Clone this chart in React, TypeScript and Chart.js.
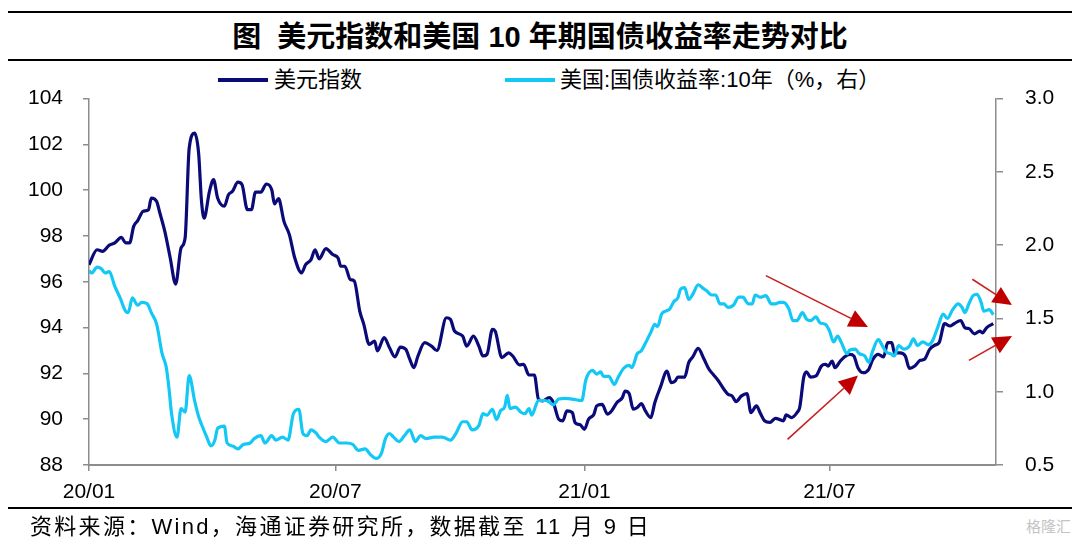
import { useEffect, useRef } from "react"
import { Chart, registerables } from "chart.js"

Chart.register(...registerables)

// days counted from 2020-01-01
const dxyDays = [
  0, 6, 10, 15, 19, 24, 27, 30, 33, 36, 40, 44, 46, 50, 52, 56, 60, 64, 68, 71, 74, 78, 81, 83, 85, 89, 92, 95,
  100, 103, 106, 110, 113, 117, 120, 123, 127, 131, 135, 137, 140, 144, 148, 152, 157, 160, 164, 167, 170, 175,
  180, 184, 186, 189, 193, 196, 200, 203, 207, 211, 213, 218, 222, 226, 230, 234, 237, 240, 243, 248, 253, 257,
  264, 267, 270, 276, 279, 284, 288, 291, 294, 298, 300, 305, 310, 313, 318, 321, 325, 329, 332, 335, 340, 343,
  347, 350, 353, 357, 359, 363, 366, 369, 373, 375, 379, 383, 386, 390, 394, 396, 399, 402, 405, 408, 411, 415,
  418, 422, 427, 430, 433, 435, 440, 443, 446, 450, 454, 458, 461, 465, 469, 472, 475, 478, 482, 486, 489, 493,
  496, 499, 503, 507, 513, 515, 519, 523, 525, 528, 530, 533, 537, 541, 544, 546, 549, 551, 555, 558, 562, 565,
  568, 572, 576, 579, 583, 587, 590, 593, 595, 599, 603, 606, 610, 614, 617, 621, 625, 628, 632, 636, 639, 644,
  647, 650, 654, 658, 660, 663, 668,
]
const dxyValues = [
  96.75, 97.4, 97.33, 97.6, 97.7, 97.94, 97.7, 97.7, 98.42, 98.67, 99.08, 99.15, 99.66, 99.51, 99.08, 98.2, 97.04,
  95.9, 97.48, 97.91, 101.83, 102.49, 101.6, 99.6, 98.78, 99.95, 100.46, 99.66,
  99.3, 99.8, 99.95, 100.35, 100.25, 99.15, 99.15, 99.92, 99.92, 100.27, 100.02, 99.4, 99.63, 98.64, 98.06, 97.04,
  96.39, 96.75, 96.97, 97.4, 97.0, 97.45,
  97.19, 97.04, 96.68, 96.68, 96.1, 96.03, 94.72, 94.14, 93.27, 93.41, 92.98, 93.56, 93.12, 92.72, 93.15, 93.05,
  92.61, 92.25, 92.76, 93.34, 93.19, 93.0,
  94.43, 94.36, 93.85, 93.63, 93.19, 93.63, 93.19, 92.76, 92.83, 93.92, 93.85, 92.69, 92.9, 92.76, 92.37, 92.4,
  91.93, 91.93, 90.87, 90.8, 90.94, 90.73,
  90.0, 89.93, 90.36, 90.29, 89.86, 89.75, 89.56, 90.0, 90.22, 90.58, 90.65, 90.22, 90.36, 90.73, 90.94, 91.23,
  91.12, 90.44, 90.51, 90.68, 90.36, 90.07,
  90.73, 91.38, 92.1, 91.6, 91.67, 91.84, 91.84, 92.47, 92.72, 93.09, 92.66, 92.18, 91.96, 91.67, 91.31, 91.09,
  91.02, 90.77, 91.02, 91.12, 90.29, 90.58,
  90.25, 89.93, 89.86, 90.04, 89.93, 90.19, 90.07, 90.29, 90.51, 91.84, 92.07, 91.84, 91.89, 92.32, 92.4, 92.32,
  92.54, 92.25, 92.54, 92.72, 92.83, 92.76,
  92.25, 92.03, 92.18, 92.61, 92.83, 92.72, 93.34, 93.34, 92.9, 92.9, 92.76, 92.22, 92.32, 92.57, 92.61, 93.05,
  93.24, 93.34, 94.17, 94.07, 94.17, 94.31,
  93.99, 93.96, 93.73, 93.85, 93.77, 93.99, 94.17,
]

const ustDays = [
  0, 2, 6, 9, 12, 15, 19, 23, 27, 29, 32, 36, 39, 43, 46, 50, 54, 57, 59, 61, 65, 68, 71, 74, 78, 81, 83, 87, 90,
  93, 95, 100, 102, 106, 110, 114, 119, 122, 127, 130, 135, 138, 143, 147, 151, 155, 158, 161, 164, 168, 170, 175,
  180, 185, 190, 195, 199, 204, 208, 212, 216, 219, 222, 225, 229, 233, 237, 241, 245, 249, 255, 261, 267, 271,
  276, 279, 283, 288, 291, 294, 298, 301, 304, 307, 309, 311, 315, 319, 322, 325, 327, 332, 337, 340, 343, 347,
  352, 357, 364, 367, 372, 375, 378, 380, 384, 388, 391, 395, 399, 401, 405, 408, 411, 415, 418, 420, 423, 426,
  429, 432, 435, 437, 440, 443, 446, 450, 453, 456, 460, 463, 466, 469, 472, 476, 480, 483, 487, 490, 492, 496,
  500, 504, 507, 510, 513, 517, 520, 523, 527, 530, 533, 537, 540, 544, 547, 550, 553, 556, 560, 562, 566, 569,
  573, 576, 579, 583, 586, 589, 592, 595, 598, 602, 606, 609, 612, 616, 620, 623, 627, 631, 634, 638, 642, 645,
  647, 650, 653, 656, 659, 661, 665, 668,
]
const ustValues = [
  1.825, 1.81, 1.85, 1.84, 1.81, 1.82, 1.72, 1.64, 1.55, 1.54, 1.64, 1.59, 1.61, 1.6, 1.54, 1.46, 1.26, 1.17, 1.03,
  0.85, 0.69, 0.885, 0.86, 1.11, 0.94, 0.83, 0.78, 0.69, 0.63,
  0.67, 0.75, 0.765, 0.65, 0.63, 0.61, 0.64, 0.65, 0.68, 0.7, 0.65, 0.7, 0.67, 0.69, 0.67, 0.85, 0.88, 0.715, 0.7,
  0.74, 0.715, 0.69, 0.66,
  0.69, 0.65, 0.65, 0.64, 0.6, 0.61, 0.57, 0.545, 0.58, 0.68, 0.715, 0.69, 0.66, 0.7, 0.74, 0.66, 0.7, 0.68, 0.69,
  0.69, 0.67, 0.715,
  0.795, 0.795, 0.74, 0.77, 0.85, 0.84, 0.88, 0.81, 0.87, 0.895, 0.975, 0.885, 0.895, 0.86, 0.85, 0.885, 0.84,
  0.94, 0.94, 0.93, 0.91, 0.95,
  0.955, 0.95, 0.94, 1.08, 1.145, 1.12, 1.135, 1.105, 1.105, 1.05, 1.1, 1.16, 1.18, 1.165, 1.26, 1.28, 1.33,
  1.405, 1.46, 1.445, 1.53, 1.55,
  1.565, 1.615, 1.64, 1.7, 1.71, 1.63, 1.665, 1.73, 1.71, 1.69, 1.66, 1.66, 1.6, 1.6, 1.575, 1.59, 1.645, 1.645,
  1.6, 1.6, 1.66, 1.645,
  1.655, 1.6, 1.6, 1.61, 1.61, 1.565, 1.485, 1.485, 1.54, 1.495, 1.485, 1.51, 1.47, 1.46, 1.415, 1.34, 1.38, 1.33,
  1.26, 1.285, 1.29, 1.26,
  1.245, 1.2, 1.28, 1.355, 1.315, 1.27, 1.26, 1.245, 1.315, 1.29, 1.31, 1.36, 1.315, 1.34, 1.32, 1.345, 1.44,
  1.53, 1.5, 1.56, 1.6, 1.575,
  1.54, 1.6, 1.655, 1.665, 1.61, 1.55, 1.56, 1.525,
]

const xTickDays = [0, 182, 366, 547]
const xTickLabels = ["20/01", "20/07", "21/01", "21/07"]
const leftTicks = [88, 90, 92, 94, 96, 98, 100, 102, 104]
const rightTicks = [0.5, 1.0, 1.5, 2.0, 2.5, 3.0]

// red arrows, [day, left-axis value]
const arrowTails = [
  [500, 96.27],
  [516, 89.12],
  [652.5, 96.11],
  [650, 92.57],
]
const arrowTips = [
  [575.4, 94.03],
  [568, 91.91],
  [681.8, 94.99],
  [681.8, 93.63],
]

const DXY_COLOR = "#0A0A78"
const UST_COLOR = "#14C8F5"
const AXIS_COLOR = "#8C8C8C"
const TICK_FONT = "'Liberation Sans', Arial, sans-serif"
const CJK_FONT = "'Liberation Sans', 'Noto Sans CJK SC', sans-serif"

const arrowPlugin = {
  id: "redArrows",
  afterDraw(chart: any) {
    const { ctx, scales } = chart
    ctx.save()
    ctx.strokeStyle = "#C81E1E"
    ctx.fillStyle = "#C00000"
    ctx.lineWidth = 1.6
    arrowTails.forEach((tail, i) => {
      const tip = arrowTips[i]
      const x0 = scales.x.getPixelForValue(tail[0])
      const y0 = scales.y.getPixelForValue(tail[1])
      const x1 = scales.x.getPixelForValue(tip[0])
      const y1 = scales.y.getPixelForValue(tip[1])
      const a = Math.atan2(y1 - y0, x1 - x0)
      const len = 19
      const half = 9
      const bx = x1 - len * Math.cos(a)
      const by = y1 - len * Math.sin(a)
      ctx.beginPath()
      ctx.moveTo(x0, y0)
      ctx.lineTo(bx, by)
      ctx.stroke()
      ctx.beginPath()
      ctx.moveTo(x1, y1)
      ctx.lineTo(bx - half * Math.sin(a), by + half * Math.cos(a))
      ctx.lineTo(bx + half * Math.sin(a), by - half * Math.cos(a))
      ctx.closePath()
      ctx.fill()
    })
    ctx.restore()
  },
}

function DollarYieldChart() {
  const chartRef = useRef<HTMLCanvasElement>(null)
  const chartInstance = useRef<Chart | null>(null)

  useEffect(() => {
    if (chartRef.current) {
      if (chartInstance.current) {
        chartInstance.current.destroy()
      }
      const ctx = chartRef.current.getContext("2d")

      chartInstance.current = new Chart(ctx as CanvasRenderingContext2D, {
        type: "line",
        data: {
          datasets: [
            {
              label: "美国:国债收益率:10年（%，右）",
              data: ustDays.map((d, i) => ({ x: d, y: ustValues[i] })),
              borderColor: UST_COLOR,
              borderWidth: 3.2,
              pointRadius: 0,
              cubicInterpolationMode: "monotone",
              yAxisID: "y1",
            },
            {
              label: "美元指数",
              data: dxyDays.map((d, i) => ({ x: d, y: dxyValues[i] })),
              borderColor: DXY_COLOR,
              borderWidth: 3.2,
              pointRadius: 0,
              cubicInterpolationMode: "monotone",
              yAxisID: "y",
            },
          ],
        },
        options: {
          responsive: true,
          maintainAspectRatio: false,
          animation: false,
          // vertical axes add (label height / 2 + tick padding) above the plot
          layout: { padding: { top: 12, left: 0, right: 0, bottom: 0 } },
          plugins: {
            legend: { display: false },
            tooltip: { enabled: false },
          },
          scales: {
            x: {
              type: "linear",
              min: 0,
              max: 670,
              afterBuildTicks: (s: any) => {
                s.ticks = xTickDays.map((v) => ({ value: v }))
              },
              afterFit: (s: any) => {
                s.height = 50
              },
              ticks: {
                autoSkip: false,
                maxRotation: 0,
                padding: 9,
                color: "#000",
                font: { family: TICK_FONT, size: 21 },
                callback: (v: any) => xTickLabels[xTickDays.indexOf(Number(v))] ?? "",
              },
              grid: { drawOnChartArea: false, tickLength: 6, color: AXIS_COLOR, lineWidth: 1.5 },
              border: { color: AXIS_COLOR, width: 2 },
            },
            y: {
              position: "left",
              min: 88,
              max: 104,
              afterBuildTicks: (s: any) => {
                s.ticks = leftTicks.map((v) => ({ value: v }))
              },
              afterFit: (s: any) => {
                s.width = 89
              },
              ticks: {
                padding: 20,
                color: "#000",
                font: { family: TICK_FONT, size: 21 },
              },
              grid: { drawOnChartArea: false, tickLength: 6, color: AXIS_COLOR, lineWidth: 1.5 },
              border: { color: AXIS_COLOR, width: 1.5 },
            },
            y1: {
              position: "right",
              min: 0.5,
              max: 3.0,
              afterBuildTicks: (s: any) => {
                s.ticks = rightTicks.map((v) => ({ value: v }))
              },
              afterFit: (s: any) => {
                s.width = 84
              },
              ticks: {
                padding: 22,
                color: "#000",
                font: { family: TICK_FONT, size: 21 },
                callback: (v: any) => Number(v).toFixed(1),
              },
              grid: { drawOnChartArea: false, tickLength: 7, color: AXIS_COLOR, lineWidth: 1.5 },
              border: { color: AXIS_COLOR, width: 1.5 },
            },
          },
        },
        plugins: [arrowPlugin],
      })
    }

    return () => {
      if (chartInstance.current) {
        chartInstance.current.destroy()
        chartInstance.current = null
      }
    }
  }, [])

  return <canvas ref={chartRef} />
}

const rule = (top: number) => (
  <div style={{ position: "absolute", left: 8, width: 1064, top, height: 2, background: "#000" }} />
)

export default function App() {
  return (
    <div
      style={{
        position: "absolute",
        left: 0,
        top: 0,
        width: 1080,
        height: 547,
        background: "#fff",
        overflow: "hidden",
        fontFamily: CJK_FONT,
        color: "#000",
      }}
    >
      {rule(11)}
      <div
        style={{
          position: "absolute",
          left: 0,
          width: 1080,
          top: 19,
          lineHeight: "36px",
          textAlign: "center",
          fontSize: 29,
          fontWeight: 700,
          whiteSpace: "pre",
        }}
      >
        图  美元指数和美国 10 年期国债收益率走势对比
      </div>
      {rule(59)}

      <div style={{ position: "absolute", left: 218, top: 78, width: 50, height: 4, background: DXY_COLOR }} />
      <div style={{ position: "absolute", left: 274, top: 65, lineHeight: "30px", fontSize: 22 }}>美元指数</div>
      <div style={{ position: "absolute", left: 505, top: 78, width: 50, height: 4, background: UST_COLOR }} />
      <div style={{ position: "absolute", left: 560, top: 65, lineHeight: "30px", fontSize: 22 }}>
        美国:国债收益率:10年（%，右）
      </div>

      <div style={{ position: "absolute", left: 0, top: 64, width: 1080, height: 451 }}>
        <DollarYieldChart />
      </div>

      {rule(507)}
      <div
        style={{
          position: "absolute",
          left: 30,
          top: 511,
          lineHeight: "32px",
          fontSize: 22,
          letterSpacing: 2.3,
          whiteSpace: "pre",
        }}
      >
        资料来源：Wind，海通证券研究所，数据截至 11 月 9 日
      </div>
      <div
        style={{
          position: "absolute",
          left: 1026,
          top: 516,
          lineHeight: "22px",
          fontSize: 15,
          color: "#c4c4c4",
        }}
      >
        格隆汇
      </div>
    </div>
  )
}
